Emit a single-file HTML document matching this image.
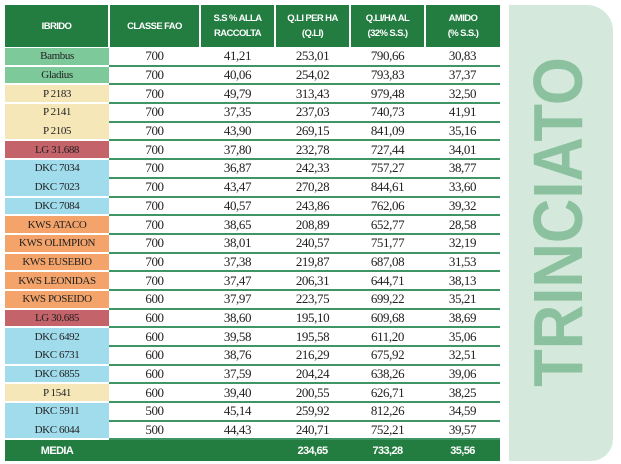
<!DOCTYPE html>
<html><head><meta charset="utf-8"><style>
body{margin:0;width:621px;height:464px;background:#fff;position:relative;overflow:hidden}
table{position:absolute;left:5px;top:5px;border-collapse:collapse;table-layout:fixed;width:495px}
td{padding:0;text-align:center;font-family:"Liberation Serif",serif;font-size:13px;color:#222;height:16.7px;line-height:16px;border-bottom:2px solid #3d9663;letter-spacing:-0.4px}
th{background:#237c40;color:#fff;font-family:"Liberation Sans",sans-serif;font-weight:bold;font-size:9.5px;letter-spacing:-0.6px;height:40px;border-right:2px solid #fff;border-bottom:1px solid #fff;line-height:15px}
th:last-child{border-right:none}
td.n{font-size:11px;border-bottom:2px solid #fff;border-right:0}
tr.m td.n{border-bottom:2px solid transparent}
.g{background:#7ec99a}.p{background:#f6e7b9}.l{background:#c4636a}.d{background:#a0dcec}.k{background:#f4a46a}
tr.med td{background:#237c40;color:#fff;font-family:"Liberation Sans",sans-serif;font-weight:bold;font-size:11px;height:21px;border:none;letter-spacing:-0.6px}
.panel{position:absolute;left:509px;top:5px;width:104px;height:456px;background:#d4e9dc;border-radius:0 26px 22px 0}
.t{position:absolute;left:558px;top:222px;font-family:"Liberation Sans",sans-serif;font-weight:bold;font-size:70px;color:#8cc19f;white-space:nowrap;transform:translate(-50%,-50%) rotate(-90deg) scaleX(0.88);line-height:1}
</style></head><body>
<div class="panel"></div>
<div class="t">TRINCIATO</div>
<table>
<colgroup><col style="width:104px"><col style="width:91px"><col style="width:75px"><col style="width:75px"><col style="width:75px"><col style="width:75px"></colgroup>
<tr><th>IBRIDO</th><th>CLASSE FAO</th><th>S.S % ALLA<br>RACCOLTA</th><th>Q.LI PER HA<br>(Q.LI)</th><th>Q.LI/HA AL<br>(32% S.S.)</th><th>AMIDO<br>(% S.S.)</th></tr>
<tr><td class="n g">Bambus</td><td>700</td><td>41,21</td><td>253,01</td><td>790,66</td><td>30,83</td></tr>
<tr><td class="n g">Gladius</td><td>700</td><td>40,06</td><td>254,02</td><td>793,83</td><td>37,37</td></tr>
<tr><td class="n p">P 2183</td><td>700</td><td>49,79</td><td>313,43</td><td>979,48</td><td>32,50</td></tr>
<tr class="m"><td class="n p">P 2141</td><td>700</td><td>37,35</td><td>237,03</td><td>740,73</td><td>41,91</td></tr>
<tr><td class="n p">P 2105</td><td>700</td><td>43,90</td><td>269,15</td><td>841,09</td><td>35,16</td></tr>
<tr><td class="n l">LG 31.688</td><td>700</td><td>37,80</td><td>232,78</td><td>727,44</td><td>34,01</td></tr>
<tr class="m"><td class="n d">DKC 7034</td><td>700</td><td>36,87</td><td>242,33</td><td>757,27</td><td>38,77</td></tr>
<tr><td class="n d">DKC 7023</td><td>700</td><td>43,47</td><td>270,28</td><td>844,61</td><td>33,60</td></tr>
<tr><td class="n d">DKC 7084</td><td>700</td><td>40,57</td><td>243,86</td><td>762,06</td><td>39,32</td></tr>
<tr><td class="n k">KWS ATACO</td><td>700</td><td>38,65</td><td>208,89</td><td>652,77</td><td>28,58</td></tr>
<tr><td class="n k">KWS OLIMPION</td><td>700</td><td>38,01</td><td>240,57</td><td>751,77</td><td>32,19</td></tr>
<tr><td class="n k">KWS EUSEBIO</td><td>700</td><td>37,38</td><td>219,87</td><td>687,08</td><td>31,53</td></tr>
<tr><td class="n k">KWS LEONIDAS</td><td>700</td><td>37,47</td><td>206,31</td><td>644,71</td><td>38,13</td></tr>
<tr><td class="n k">KWS POSEIDO</td><td>600</td><td>37,97</td><td>223,75</td><td>699,22</td><td>35,21</td></tr>
<tr><td class="n l">LG 30.685</td><td>600</td><td>38,60</td><td>195,10</td><td>609,68</td><td>38,69</td></tr>
<tr class="m"><td class="n d">DKC 6492</td><td>600</td><td>39,58</td><td>195,58</td><td>611,20</td><td>35,06</td></tr>
<tr><td class="n d">DKC 6731</td><td>600</td><td>38,76</td><td>216,29</td><td>675,92</td><td>32,51</td></tr>
<tr><td class="n d">DKC 6855</td><td>600</td><td>37,59</td><td>204,24</td><td>638,26</td><td>39,06</td></tr>
<tr><td class="n p">P 1541</td><td>600</td><td>39,40</td><td>200,55</td><td>626,71</td><td>38,25</td></tr>
<tr class="m"><td class="n d">DKC 5911</td><td>500</td><td>45,14</td><td>259,92</td><td>812,26</td><td>34,59</td></tr>
<tr><td class="n d">DKC 6044</td><td>500</td><td>44,43</td><td>240,71</td><td>752,21</td><td>39,57</td></tr>
<tr class="med"><td>MEDIA</td><td></td><td></td><td>234,65</td><td>733,28</td><td>35,56</td></tr>
</table>
</body></html>
